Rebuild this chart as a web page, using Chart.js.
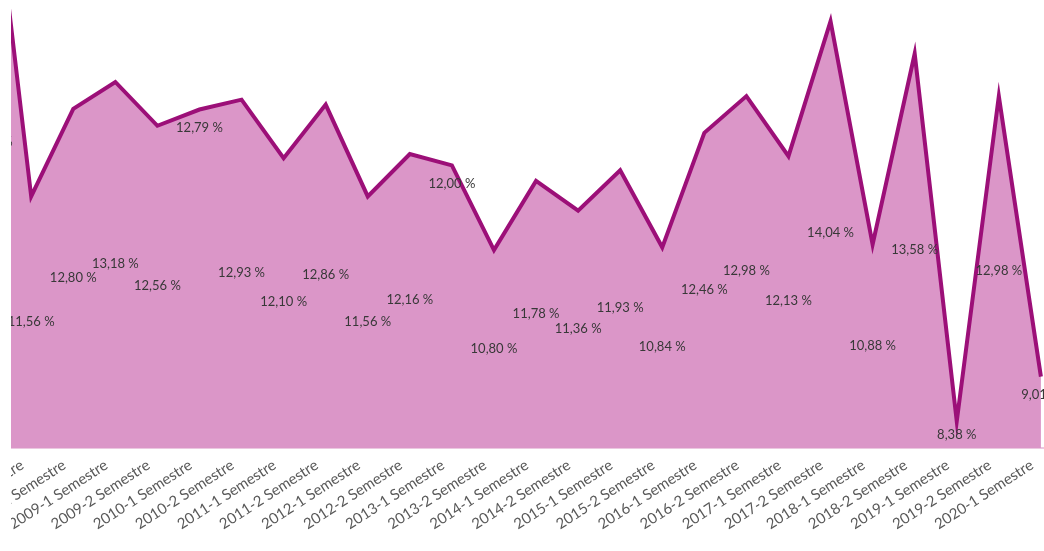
<!DOCTYPE html>
<html>
<head>
<meta charset="utf-8">
<script src="https://cdn.jsdelivr.net/npm/chart.js@4/dist/chart.umd.min.js"></script>
<style>
  html, body { margin: 0; padding: 0; background: #ffffff; }
  #wrap { width: 1044px; height: 551px; position: relative; }
  #c { clip-path: inset(0 0 0 11px); }
</style>
</head>
<body>
<div id="wrap"><canvas id="c"></canvas></div>
<script>
// ---- data ----
const categories = [
  '2007-2 Semestre', '2008-1 Semestre', '2008-2 Semestre', '2009-1 Semestre', '2009-2 Semestre',
  '2010-1 Semestre', '2010-2 Semestre', '2011-1 Semestre', '2011-2 Semestre', '2012-1 Semestre',
  '2012-2 Semestre', '2013-1 Semestre', '2013-2 Semestre', '2014-1 Semestre', '2014-2 Semestre',
  '2015-1 Semestre', '2015-2 Semestre', '2016-1 Semestre', '2016-2 Semestre', '2017-1 Semestre',
  '2017-2 Semestre', '2018-1 Semestre', '2018-2 Semestre', '2019-1 Semestre', '2019-2 Semestre',
  '2020-1 Semestre'
];
const rates = [
  16.6, 11.56, 12.80, 13.18, 12.56,
  12.79, 12.93, 12.10, 12.86, 11.56,
  12.16, 12.00, 10.80, 11.78, 11.36,
  11.93, 10.84, 12.46, 12.98, 12.13,
  14.04, 10.88, 13.58, 8.38, 12.98,
  9.01
];
const valueLabels = rates.map(v => v.toFixed(2).replace('.', ',') + ' %');

// ---- value label plugin ----
const valueLabelPlugin = {
  id: 'valueLabels',
  afterDatasetsDraw(chart, args, opts) {
    const ctx = chart.ctx;
    const meta = chart.getDatasetMeta(0);
    const yL = chart.scales.yLabel;
    ctx.save();
    ctx.font = '13px Lato';
    ctx.fillStyle = '#383838';
    ctx.textAlign = 'center';
    ctx.textBaseline = 'middle';
    meta.data.forEach((pt, i) => {
      const y = opts.nearLine.includes(i) ? pt.y + opts.nearOffset : yL.getPixelForValue(rates[i]);
      ctx.fillText(valueLabels[i], pt.x, y);
    });
    ctx.restore();
  }
};

new Chart(document.getElementById('c'), {
  type: 'line',
  data: {
    datasets: [{
      data: rates.map((v, i) => ({ x: i, y: v })),
      borderColor: '#9c0f78',
      borderWidth: 4,
      backgroundColor: '#db96c8',
      fill: 'start',
      pointRadius: 0,
      tension: 0,
      clip: 0
    }]
  },
  options: {
    responsive: true,
    maintainAspectRatio: false,
    animation: false,
    layout: { padding: { left: 11, right: 1, top: 0, bottom: 0 }, autoPadding: false },
    plugins: {
      legend: { display: false },
      tooltip: { enabled: false },
      valueLabels: { nearLine: [5, 11, 25], nearOffset: 18 }
    },
    scales: {
      x: {
        type: 'linear',
        min: 0.52,
        max: 25.05,
        afterBuildTicks: s => {
          s.ticks = categories.map((c, i) => ({ value: i }))
            .filter(t => t.value >= s.min && t.value <= s.max);
        },
        afterFit: s => {
          s.height = 103;
          s.paddingLeft = 0;
          s.paddingRight = 0;
        },
        grid: { display: false },
        border: { display: true, color: '#ebc8e0', width: 2 },
        ticks: {
          autoSkip: false,
          minRotation: 33,
          maxRotation: 33,
          labelOffset: -9,
          padding: 0,
          font: { family: 'Lato', size: 15 },
          color: '#595959',
          callback: v => categories[v] ?? ''
        }
      },
      y: { display: false, min: 8, max: 14.34 },
      yLabel: { display: false, min: 8, max: 20.6, position: 'left' }
    }
  },
  plugins: [valueLabelPlugin]
});
</script>
</body>
</html>
